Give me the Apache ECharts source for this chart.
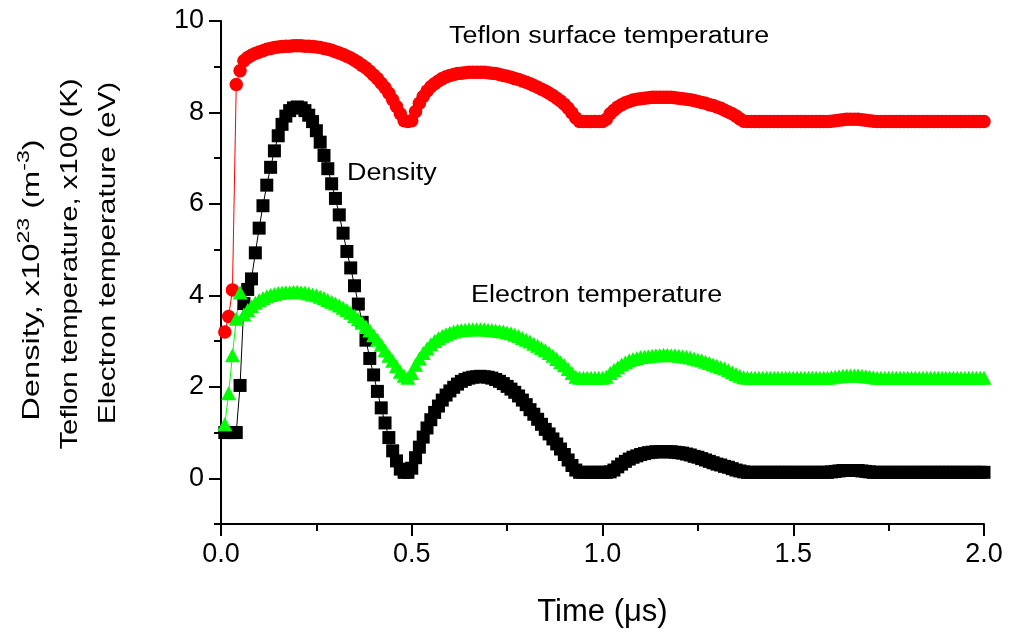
<!DOCTYPE html>
<html>
<head>
<meta charset="utf-8">
<script src="https://cdn.jsdelivr.net/npm/echarts@6/dist/echarts.min.js"></script>
<style>
  html, body { margin: 0; padding: 0; background: #fff; }
  #chart { width: 1009px; height: 633px; }
</style>
</head>
<body>
<div id="chart"></div>
<script>
// time grid, one sample every 0.01 us (0.01 .. 2.00)
const timeUs = [];
for (let i = 1; i <= 200; i++) timeUs.push(+(i * 0.01).toFixed(2));

// Teflon surface temperature, x100 K
const teflonTemp = [
  3.20, 3.54, 4.12, 8.61, 8.91, 9.13, 9.20, 9.25, 9.29, 9.32,
  9.35, 9.38, 9.40, 9.42, 9.43, 9.44, 9.45, 9.45, 9.46, 9.46,
  9.46, 9.45, 9.45, 9.44, 9.43, 9.42, 9.40, 9.38, 9.36, 9.33,
  9.30, 9.27, 9.23, 9.19, 9.14, 9.09, 9.03, 8.97, 8.90, 8.82,
  8.74, 8.64, 8.54, 8.42, 8.28, 8.13, 7.97, 7.82, 7.80, 7.82,
  8.02, 8.20, 8.35, 8.47, 8.56, 8.63, 8.69, 8.74, 8.78, 8.81,
  8.83, 8.85, 8.86, 8.87, 8.88, 8.88, 8.88, 8.88, 8.88, 8.87,
  8.86, 8.85, 8.83, 8.81, 8.79, 8.77, 8.74, 8.72, 8.69, 8.66,
  8.63, 8.59, 8.55, 8.51, 8.47, 8.42, 8.37, 8.31, 8.25, 8.18,
  8.09, 7.99, 7.88, 7.80, 7.80, 7.80, 7.80, 7.80, 7.80, 7.80,
  7.85, 7.97, 8.05, 8.12, 8.17, 8.21, 8.24, 8.27, 8.29, 8.30,
  8.31, 8.32, 8.33, 8.33, 8.33, 8.33, 8.33, 8.33, 8.32, 8.31,
  8.30, 8.29, 8.28, 8.26, 8.24, 8.22, 8.20, 8.17, 8.15, 8.12,
  8.09, 8.05, 8.01, 7.97, 7.92, 7.86, 7.81, 7.80, 7.80, 7.80,
  7.80, 7.80, 7.80, 7.80, 7.80, 7.80, 7.80, 7.80, 7.80, 7.80,
  7.80, 7.80, 7.80, 7.80, 7.80, 7.80, 7.80, 7.80, 7.80, 7.81,
  7.82, 7.83, 7.84, 7.85, 7.85, 7.85, 7.85, 7.84, 7.83, 7.82,
  7.81, 7.80, 7.80, 7.80, 7.80, 7.80, 7.80, 7.80, 7.80, 7.80,
  7.80, 7.80, 7.80, 7.80, 7.80, 7.80, 7.80, 7.80, 7.80, 7.80,
  7.80, 7.80, 7.80, 7.80, 7.80, 7.80, 7.80, 7.80, 7.80, 7.80
];

// density, x10^23 m^-3
const density = [
  1.00, 1.00, 1.00, 1.00, 2.03, 3.82, 4.13, 4.36, 4.93, 5.47,
  5.96, 6.41, 6.80, 7.16, 7.49, 7.74, 7.92, 8.04, 8.10, 8.12,
  8.10, 8.04, 7.94, 7.80, 7.60, 7.35, 7.06, 6.77, 6.44, 6.12,
  5.76, 5.36, 4.96, 4.60, 4.21, 3.81, 3.41, 3.02, 2.62, 2.26,
  1.90, 1.54, 1.21, 0.89, 0.60, 0.38, 0.20, 0.13, 0.13, 0.22,
  0.45, 0.68, 0.90, 1.10, 1.28, 1.44, 1.58, 1.71, 1.82, 1.91,
  1.99, 2.06, 2.12, 2.16, 2.19, 2.21, 2.22, 2.23, 2.22, 2.21,
  2.19, 2.16, 2.12, 2.07, 2.01, 1.95, 1.88, 1.80, 1.71, 1.61,
  1.50, 1.40, 1.29, 1.18, 1.07, 0.97, 0.86, 0.75, 0.64, 0.52,
  0.40, 0.28, 0.18, 0.13, 0.13, 0.13, 0.13, 0.13, 0.13, 0.13,
  0.13, 0.14, 0.18, 0.25, 0.31, 0.37, 0.42, 0.46, 0.49, 0.52,
  0.54, 0.56, 0.57, 0.58, 0.58, 0.58, 0.58, 0.58, 0.57, 0.56,
  0.55, 0.53, 0.51, 0.48, 0.46, 0.43, 0.40, 0.37, 0.34, 0.31,
  0.29, 0.26, 0.24, 0.21, 0.18, 0.16, 0.14, 0.13, 0.13, 0.13,
  0.13, 0.13, 0.13, 0.13, 0.13, 0.13, 0.13, 0.13, 0.13, 0.13,
  0.13, 0.13, 0.13, 0.13, 0.13, 0.13, 0.13, 0.13, 0.13, 0.14,
  0.15, 0.16, 0.17, 0.17, 0.17, 0.17, 0.17, 0.16, 0.15, 0.14,
  0.13, 0.13, 0.13, 0.13, 0.13, 0.13, 0.13, 0.13, 0.13, 0.13,
  0.13, 0.13, 0.13, 0.13, 0.13, 0.13, 0.13, 0.13, 0.13, 0.13,
  0.13, 0.13, 0.13, 0.13, 0.13, 0.13, 0.13, 0.13, 0.13, 0.13
];

// electron temperature, eV
const electronTemp = [
  1.18, 1.86, 2.69, 3.49, 4.06, 3.58, 3.68, 3.77, 3.84, 3.90,
  3.94, 3.98, 4.01, 4.03, 4.05, 4.06, 4.07, 4.07, 4.08, 4.08,
  4.07, 4.06, 4.04, 4.02, 4.00, 3.97, 3.94, 3.90, 3.86, 3.82,
  3.78, 3.73, 3.68, 3.62, 3.55, 3.48, 3.40, 3.32, 3.23, 3.13,
  3.03, 2.92, 2.80, 2.68, 2.57, 2.45, 2.33, 2.24, 2.20, 2.30,
  2.48, 2.62, 2.74, 2.84, 2.93, 3.00, 3.06, 3.11, 3.15, 3.18,
  3.21, 3.23, 3.24, 3.25, 3.26, 3.26, 3.26, 3.26, 3.26, 3.25,
  3.24, 3.23, 3.22, 3.21, 3.19, 3.17, 3.14, 3.11, 3.07, 3.03,
  2.99, 2.94, 2.90, 2.85, 2.80, 2.74, 2.68, 2.61, 2.54, 2.47,
  2.39, 2.30, 2.22, 2.20, 2.20, 2.20, 2.20, 2.20, 2.20, 2.20,
  2.22, 2.30, 2.37, 2.43, 2.49, 2.54, 2.58, 2.61, 2.63, 2.65,
  2.66, 2.67, 2.68, 2.69, 2.69, 2.70, 2.70, 2.69, 2.69, 2.68,
  2.67, 2.66, 2.64, 2.62, 2.60, 2.58, 2.55, 2.52, 2.49, 2.46,
  2.43, 2.40, 2.36, 2.32, 2.28, 2.24, 2.21, 2.20, 2.20, 2.20,
  2.20, 2.20, 2.20, 2.20, 2.20, 2.20, 2.20, 2.20, 2.20, 2.20,
  2.20, 2.20, 2.20, 2.20, 2.20, 2.20, 2.20, 2.20, 2.20, 2.21,
  2.22, 2.23, 2.24, 2.25, 2.25, 2.25, 2.25, 2.24, 2.23, 2.22,
  2.21, 2.20, 2.20, 2.20, 2.20, 2.20, 2.20, 2.20, 2.20, 2.20,
  2.20, 2.20, 2.20, 2.20, 2.20, 2.20, 2.20, 2.20, 2.20, 2.20,
  2.20, 2.20, 2.20, 2.20, 2.20, 2.20, 2.20, 2.20, 2.20, 2.20
];

const yMajorTicks = [0, 2, 4, 6, 8, 10];
const yMinorTicks = [-1, 1, 3, 5, 7, 9];

const FONT = '"Liberation Sans", Arial, sans-serif';

const pairs = (ys) => timeUs.map((t, i) => [t, ys[i]]);

const chart = echarts.init(document.getElementById('chart'), null, { renderer: 'canvas' });

const axisStroke = { color: '#000', width: 2 };

// rotated y title lines (read bottom to top)
function yTitle(text, x, y, sx, rich) {
  return {
    type: 'text', x: x, y: y, rotation: Math.PI / 2, scaleX: sx,
    style: {
      text: text, fontSize: 24, fontFamily: FONT, fill: '#000',
      align: 'center', verticalAlign: 'middle', lineHeight: 32,
      rich: rich
    }
  };
}

function note(text, x, y) {
  return {
    type: 'text', x: x, y: y, scaleX: 1.17,
    style: { text: text, fontSize: 23, fontFamily: FONT, fill: '#000', verticalAlign: 'middle' }
  };
}

const option = {
  animation: false,
  backgroundColor: '#fff',
  grid: { left: 221, right: 25, top: 21, bottom: 104 },
  xAxis: {
    type: 'value',
    min: 0,
    max: 2,
    interval: 0.5,
    axisLine: { onZero: false, lineStyle: axisStroke },
    axisTick: { length: 12, lineStyle: axisStroke },
    minorTick: { show: true, splitNumber: 2, length: 7, lineStyle: axisStroke },
    splitLine: { show: false },
    axisLabel: {
      fontSize: 27, color: '#000', fontFamily: FONT, margin: 17,
      formatter: v => v.toFixed(1)
    },
    name: 'Time (μs)',
    nameLocation: 'middle',
    nameGap: 73,
    nameTextStyle: { fontSize: 31, color: '#000', fontFamily: FONT }
  },
  yAxis: [{
    type: 'value',
    min: -1,
    max: 10,
    interval: 1,
    axisLine: { show: true, onZero: false, lineStyle: axisStroke },
    axisTick: { show: true, length: 12, customValues: yMajorTicks, lineStyle: axisStroke },
    axisLabel: {
      customValues: yMajorTicks,
      fontSize: 27, color: '#000', fontFamily: FONT, margin: 17
    },
    splitLine: { show: false }
  }, {
    type: 'value',
    position: 'left',
    offset: 0,
    min: -1,
    max: 10,
    interval: 1,
    axisLine: { show: false },
    axisTick: { show: true, length: 7, customValues: yMinorTicks, lineStyle: axisStroke },
    axisLabel: { show: false },
    splitLine: { show: false }
  }],
  graphic: [
    yTitle('Density, x10{sup|23} (m{sup|-3})', 32, 280, 1.36, {
      sup: { fontSize: 17, fontFamily: FONT, fill: '#000', verticalAlign: 'top', lineHeight: 17 }
    }),
    yTitle('Teflon temperature, x100 (K)', 70, 264, 1.22),
    yTitle('Electron temperature (eV)', 108, 253, 1.24),
    note('Teflon surface temperature', 449, 37),
    note('Density', 347, 174),
    note('Electron temperature', 471, 296)
  ],
  series: [
    {
      name: 'Density',
      type: 'line',
      data: pairs(density),
      symbol: 'rect',
      symbolSize: 13,
      showAllSymbol: true,
      itemStyle: { color: '#000', borderWidth: 0 },
      lineStyle: { color: '#000', width: 1 }
    },
    {
      name: 'Teflon surface temperature',
      type: 'line',
      data: pairs(teflonTemp),
      symbol: 'circle',
      symbolSize: 13.5,
      showAllSymbol: true,
      itemStyle: { color: '#ff0000', borderWidth: 0 },
      lineStyle: { color: '#ff0000', width: 1 }
    },
    {
      name: 'Electron temperature',
      type: 'line',
      data: pairs(electronTemp),
      symbol: 'triangle',
      symbolSize: [15, 14],
      showAllSymbol: true,
      itemStyle: { color: '#00ff00', borderWidth: 0 },
      lineStyle: { color: '#00ff00', width: 1 }
    }
  ]
};

chart.setOption(option);
</script>
</body>
</html>
